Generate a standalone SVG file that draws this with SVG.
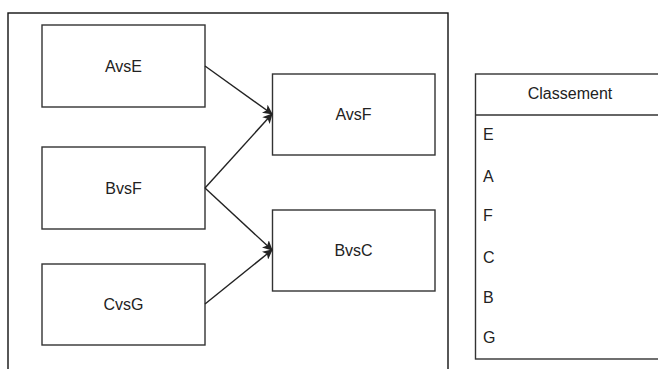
<svg xmlns="http://www.w3.org/2000/svg" width="658" height="369" viewBox="0 0 658 369">
<style>
.box{fill:#fff;stroke:#333;stroke-width:1.4}
.cont{fill:#fff;stroke:#111;stroke-width:1.4}
.lbl{font-family:"Liberation Sans",Arial,sans-serif;font-size:16px;fill:#222;text-anchor:middle}
.row{font-family:"Liberation Sans",Arial,sans-serif;font-size:16px;fill:#222}
.edge{fill:none;stroke:#222;stroke-width:1.4}
</style>
<defs>
<marker id="arr" viewBox="0 0 10 10" refX="9" refY="5" markerWidth="10" markerHeight="10" orient="auto" markerUnits="userSpaceOnUse">
<path d="M0,0 L10,5 L0,10 L2.5,5 Z" fill="#222"/>
</marker>
</defs>
<g id="container"><rect class="cont" x="8" y="13" width="440" height="370"/></g>
<g id="AvsE"><rect class="box" x="42" y="25" width="163" height="82"/><text class="lbl" x="123.5" y="71.5">AvsE</text></g>
<g id="BvsF"><rect class="box" x="42" y="147" width="163" height="82"/><text class="lbl" x="123.5" y="193.5">BvsF</text></g>
<g id="CvsG"><rect class="box" x="42" y="264" width="163" height="81"/><text class="lbl" x="123.5" y="310">CvsG</text></g>
<g id="AvsF"><rect class="box" x="272.5" y="74" width="162.5" height="81"/><text class="lbl" x="353.5" y="120">AvsF</text></g>
<g id="BvsC"><rect class="box" x="272.5" y="210" width="162.5" height="81"/><text class="lbl" x="353.5" y="256">BvsC</text></g>
<g id="connectors">
<path class="edge" d="M205,66 L272,114" marker-end="url(#arr)"/>
<path class="edge" d="M205,188 L272,114" marker-end="url(#arr)"/>
<path class="edge" d="M205,188 L272,250" marker-end="url(#arr)"/>
<path class="edge" d="M205,304 L272,250" marker-end="url(#arr)"/>
</g>
<g id="Classement">
<rect class="box" x="475.5" y="74" width="200" height="285"/>
<line x1="475.5" y1="115" x2="675" y2="115" stroke="#333" stroke-width="1.4"/>
<text class="lbl" x="570" y="99">Classement</text>
<text class="row" x="483" y="140">E</text>
<text class="row" x="483" y="181.5">A</text>
<text class="row" x="483" y="220.5">F</text>
<text class="row" x="483" y="262.5">C</text>
<text class="row" x="483" y="302.5">B</text>
<text class="row" x="483" y="343">G</text>
</g>
</svg>
